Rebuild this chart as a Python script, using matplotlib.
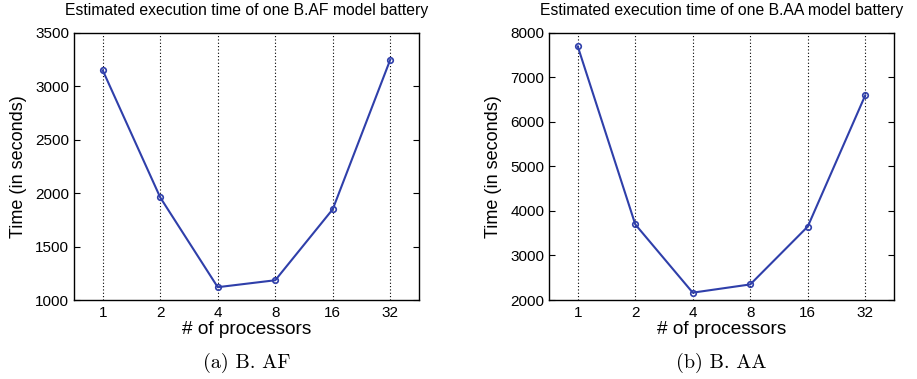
import matplotlib
matplotlib.use('Agg')
import matplotlib.pyplot as plt
import numpy as np

# Data
procs = ['1', '2', '4', '8', '16', '32']
time_af = [3150, 1960, 1120, 1185, 1850, 3250]
time_aa = [7700, 3700, 2165, 2350, 3650, 6600]

titles = ['Estimated execution time of one B.AF model battery',
          'Estimated execution time of one B.AA model battery']
captions = ['(a) B. AF', '(b) B. AA']
ylims = [(1000, 3500), (2000, 8000)]
ysteps = [500, 1000]

plt.rcParams['font.family'] = ['Liberation Sans', 'DejaVu Sans']
line_color = '#2f3faa'

fig = plt.figure(figsize=(9.17, 3.79), dpi=100)
axes = [fig.add_axes([74/917, 1 - 300/379, 345/917, 267/379]),
        fig.add_axes([549/917, 1 - 300/379, 345/917, 267/379])]

x = np.arange(len(procs))
for ax, y, title, cap, yl, st in zip(axes, [time_af, time_aa], titles, captions, ylims, ysteps):
    ax.plot(x, y, color=line_color, linewidth=1.5, marker='o', markersize=4,
            markerfacecolor='none', markeredgecolor=line_color, markeredgewidth=1.2)
    ax.set_xlim(-0.5, len(procs) - 0.5)
    ax.set_ylim(*yl)
    ax.set_xticks(x)
    ax.set_xticklabels(procs, fontsize=11)
    ax.set_yticks(np.arange(yl[0], yl[1] + 1, st))
    ax.tick_params(axis='y', labelsize=11)
    ax.tick_params(direction='in', length=4, width=0.8, top=True, right=True)
    ax.tick_params(axis='x', length=0, pad=4)
    ax.grid(axis='x', linestyle=(0, (1, 2)), color='black', linewidth=0.8)
    for s in ax.spines.values():
        s.set_linewidth(1.0)
    ax.set_title(title, fontsize=11.3, pad=13)
    ax.set_xlabel('# of processors', fontsize=13.7, labelpad=1)
    ax.set_ylabel('Time (in seconds)', fontsize=13, labelpad=6)
    ax.text(0.5, -0.236, cap, transform=ax.transAxes, ha='center', va='center',
            fontsize=14.5, family=['cmr10', 'DejaVu Serif'])

fig.savefig('out.png', dpi=100)
